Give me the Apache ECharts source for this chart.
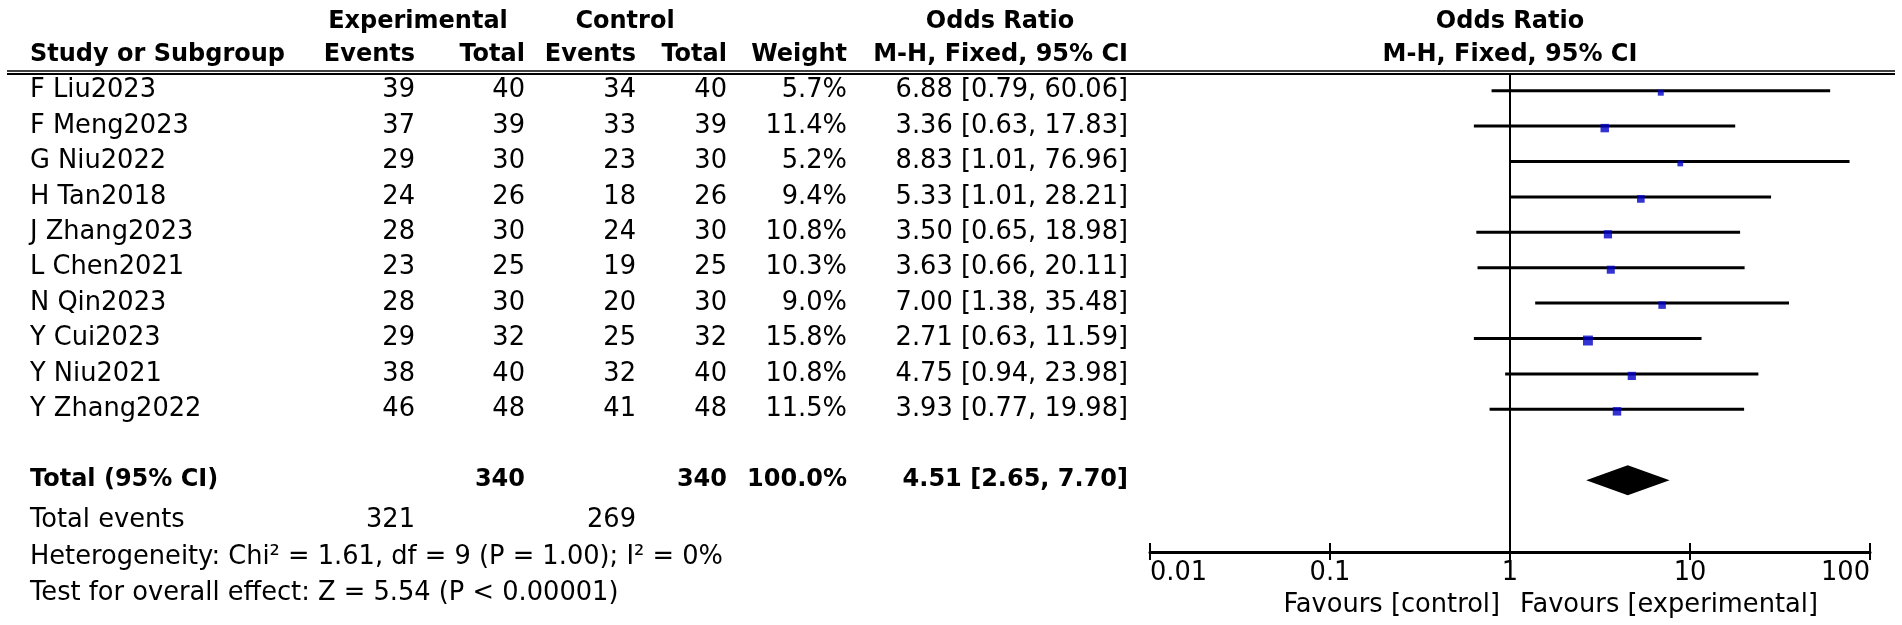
<!DOCTYPE html>
<html>
<head>
<meta charset="utf-8">
<script src="https://cdn.jsdelivr.net/npm/echarts@6/dist/echarts.min.js"></script>
<style>
    html, body { margin: 0; padding: 0; background: #fff; }
    #chart-container { width: 1902px; height: 625px; }
</style>
</head>
<body>
<div id="chart-container"></div>
<script>
var studies = ['F Liu2023', 'F Meng2023', 'G Niu2022', 'H Tan2018', 'J Zhang2023',
    'L Chen2021', 'N Qin2023', 'Y Cui2023', 'Y Niu2021', 'Y Zhang2022'];
var expEvents = [39, 37, 29, 24, 28, 23, 28, 29, 38, 46];
var expTotal = [40, 39, 30, 26, 30, 25, 30, 32, 40, 48];
var ctrlEvents = [34, 33, 23, 18, 24, 19, 20, 25, 32, 41];
var ctrlTotal = [40, 39, 30, 26, 30, 25, 30, 32, 40, 48];
var weights = [5.7, 11.4, 5.2, 9.4, 10.8, 10.3, 9.0, 15.8, 10.8, 11.5];
var orValues = [6.88, 3.36, 8.83, 5.33, 3.50, 3.63, 7.00, 2.71, 4.75, 3.93];
var ciLow = [0.79, 0.63, 1.01, 1.01, 0.65, 0.66, 1.38, 0.63, 0.94, 0.77];
var ciHigh = [60.06, 17.83, 76.96, 28.21, 18.98, 20.11, 35.48, 11.59, 23.98, 19.98];

var totalLabel = 'Total (95% CI)';
var totalExp = 340;
var totalCtrl = 340;
var totalWeight = 100.0;
var totalOr = 4.51;
var totalLow = 2.65;
var totalHigh = 7.70;
var totalExpEvents = 321;
var totalCtrlEvents = 269;
var heterogeneityText = 'Heterogeneity: Chi\u00b2 = 1.61, df = 9 (P = 1.00); I\u00b2 = 0%';
var overallText = 'Test for overall effect: Z = 5.54 (P < 0.00001)';

var tickValues = [0.01, 0.1, 1, 10, 100];
var tickLabels = ['0.01', '0.1', '1', '10', '100'];
var favourLeft = 'Favours [control]';
var favourRight = 'Favours [experimental]';

(function () {
    var domChart = document.getElementById('chart-container');
    var ioChart = echarts.init(domChart, null, { renderer: 'canvas' });
    var FONT = 'DejaVu Sans';
    var FS = 25.7;    // regular text
    var FSB = 24;     // bold text
    var totalRow = studies.length + 1;
    var gridBox = { left: 1150, right: 32, top: 73, height: 479 };

    function fmt2(v) { return v.toFixed(2); }
    function ciText(o, l, h) { return fmt2(o) + ' [' + fmt2(l) + ', ' + fmt2(h) + ']'; }

    var ciData = [];
    var pointData = [];
    for (var i = 0; i < studies.length; i++) {
        ciData.push([ciLow[i], ciHigh[i], i]);
        pointData.push([orValues[i], i, weights[i]]);
    }

    var chartOption = {
        backgroundColor: '#fff',
        animation: false,
        grid: [
            Object.assign({}, gridBox),
            Object.assign({}, gridBox)
        ],
        xAxis: [
            {
                type: 'log', logBase: 10, min: 0.01, max: 100, gridIndex: 0, position: 'bottom',
                axisLine: { show: true, onZero: false, lineStyle: { color: '#000', width: 3 } },
                axisTick: { show: true, length: 8, lineStyle: { color: '#000', width: 2 } },
                splitLine: { show: false },
                axisLabel: {
                    color: '#000', fontFamily: FONT, fontSize: FS, margin: 8,
                    alignMinLabel: 'left', alignMaxLabel: 'right',
                    formatter: function (v) {
                        for (var k = 0; k < tickValues.length; k++) {
                            if (Math.abs(Math.log10(v) - Math.log10(tickValues[k])) < 1e-6) return tickLabels[k];
                        }
                        return '';
                    }
                }
            },
            {
                // upward half of the ticks
                type: 'log', logBase: 10, min: 0.01, max: 100, gridIndex: 1, position: 'bottom',
                axisLine: { show: false, onZero: false },
                axisTick: { show: true, inside: true, length: 9, lineStyle: { color: '#000', width: 2 } },
                axisLabel: { show: false },
                splitLine: { show: false }
            }
        ],
        yAxis: [
            { type: 'value', inverse: true, min: -0.5, max: 13.03, show: false, gridIndex: 0 },
            { type: 'value', inverse: true, min: -0.5, max: 13.03, show: false, gridIndex: 1 }
        ],
        series: [
            {
                type: 'custom',
                data: ciData,
                renderItem: function (params, api) {
                    var p1 = api.coord([api.value(0), api.value(2)]);
                    var p2 = api.coord([api.value(1), api.value(2)]);
                    return {
                        type: 'line',
                        shape: { x1: p1[0], y1: p1[1], x2: p2[0], y2: p2[1] },
                        style: { stroke: '#000', lineWidth: 3 }
                    };
                },
                markLine: {
                    silent: true, symbol: 'none', label: { show: false },
                    lineStyle: { color: '#000', width: 2, type: 'solid' },
                    data: [{ xAxis: 1 }]
                },
                z: 2
            },
            {
                type: 'scatter',
                data: pointData,
                symbol: 'rect',
                symbolOffset: [0, 2],
                symbolSize: function (d) { return 2.5 * Math.sqrt(d[2]); },
                itemStyle: { color: '#0000c8' },
                z: 3
            },
            {
                type: 'custom',
                data: [[totalOr, totalLow, totalHigh, totalRow]],
                renderItem: function (params, api) {
                    var c = api.coord([api.value(0), api.value(3)]);
                    var l = api.coord([api.value(1), api.value(3)]);
                    var r = api.coord([api.value(2), api.value(3)]);
                    return {
                        type: 'polygon',
                        shape: { points: [[l[0], c[1]], [c[0], c[1] - 15], [r[0], c[1]], [c[0], c[1] + 15]] },
                        style: { fill: '#000' }
                    };
                },
                z: 3
            }
        ]
    };
    ioChart.setOption(chartOption);

    function rowY(i) {
        return ioChart.convertToPixel({ gridIndex: 0 }, [1, i])[1];
    }
    function txt(text, x, y, align, bold) {
        return {
            type: 'text', x: x, y: y, silent: true,
            style: {
                text: String(text), fill: '#000',
                font: (bold ? 'bold ' + FSB : FS) + 'px "' + FONT + '"',
                textAlign: align, textVerticalAlign: 'middle'
            }
        };
    }

    var cols = { name: 30, expE: 415, expT: 525, ctrlE: 636, ctrlT: 727, weight: 847, ci: 1128 };
    var plotMid = ioChart.convertToPixel({ xAxisIndex: 0 }, 1);

    var els = [];
    // header
    els.push(txt('Experimental', 418, 22, 'center', true));
    els.push(txt('Control', 625, 22, 'center', true));
    els.push(txt('Odds Ratio', 1000, 22, 'center', true));
    els.push(txt('Odds Ratio', plotMid, 22, 'center', true));
    els.push(txt('Study or Subgroup', cols.name, 55, 'left', true));
    els.push(txt('Events', cols.expE, 55, 'right', true));
    els.push(txt('Total', cols.expT, 55, 'right', true));
    els.push(txt('Events', cols.ctrlE, 55, 'right', true));
    els.push(txt('Total', cols.ctrlT, 55, 'right', true));
    els.push(txt('Weight', cols.weight, 55, 'right', true));
    els.push(txt('M-H, Fixed, 95% CI', cols.ci, 55, 'right', true));
    els.push(txt('M-H, Fixed, 95% CI', plotMid, 55, 'center', true));
    els.push({ type: 'line', silent: true, shape: { x1: 7, y1: 71, x2: 1895, y2: 71 }, style: { stroke: '#000', lineWidth: 1.5 } });
    els.push({ type: 'line', silent: true, shape: { x1: 7, y1: 74, x2: 1895, y2: 74 }, style: { stroke: '#000', lineWidth: 2 } });

    // study rows
    for (var j = 0; j < studies.length; j++) {
        var y = rowY(j);
        els.push(txt(studies[j], cols.name, y, 'left'));
        els.push(txt(expEvents[j], cols.expE, y, 'right'));
        els.push(txt(expTotal[j], cols.expT, y, 'right'));
        els.push(txt(ctrlEvents[j], cols.ctrlE, y, 'right'));
        els.push(txt(ctrlTotal[j], cols.ctrlT, y, 'right'));
        els.push(txt(weights[j].toFixed(1) + '%', cols.weight, y, 'right'));
        els.push(txt(ciText(orValues[j], ciLow[j], ciHigh[j]), cols.ci, y, 'right'));
    }

    // total row
    var ty = rowY(totalRow);
    els.push(txt(totalLabel, cols.name, ty, 'left', true));
    els.push(txt(totalExp, cols.expT, ty, 'right', true));
    els.push(txt(totalCtrl, cols.ctrlT, ty, 'right', true));
    els.push(txt(totalWeight.toFixed(1) + '%', cols.weight, ty, 'right', true));
    els.push(txt(ciText(totalOr, totalLow, totalHigh), cols.ci, ty, 'right', true));

    // footer
    els.push(txt('Total events', cols.name, 520, 'left'));
    els.push(txt(totalExpEvents, cols.expE, 520, 'right'));
    els.push(txt(totalCtrlEvents, cols.ctrlE, 520, 'right'));
    els.push(txt(heterogeneityText, cols.name, 557, 'left'));
    els.push(txt(overallText, cols.name, 593, 'left'));

    els.push(txt(favourLeft, plotMid - 10, 605, 'right'));
    els.push(txt(favourRight, plotMid + 10, 605, 'left'));

    ioChart.setOption({ graphic: { elements: els } });
})();
</script>
</body>
</html>
